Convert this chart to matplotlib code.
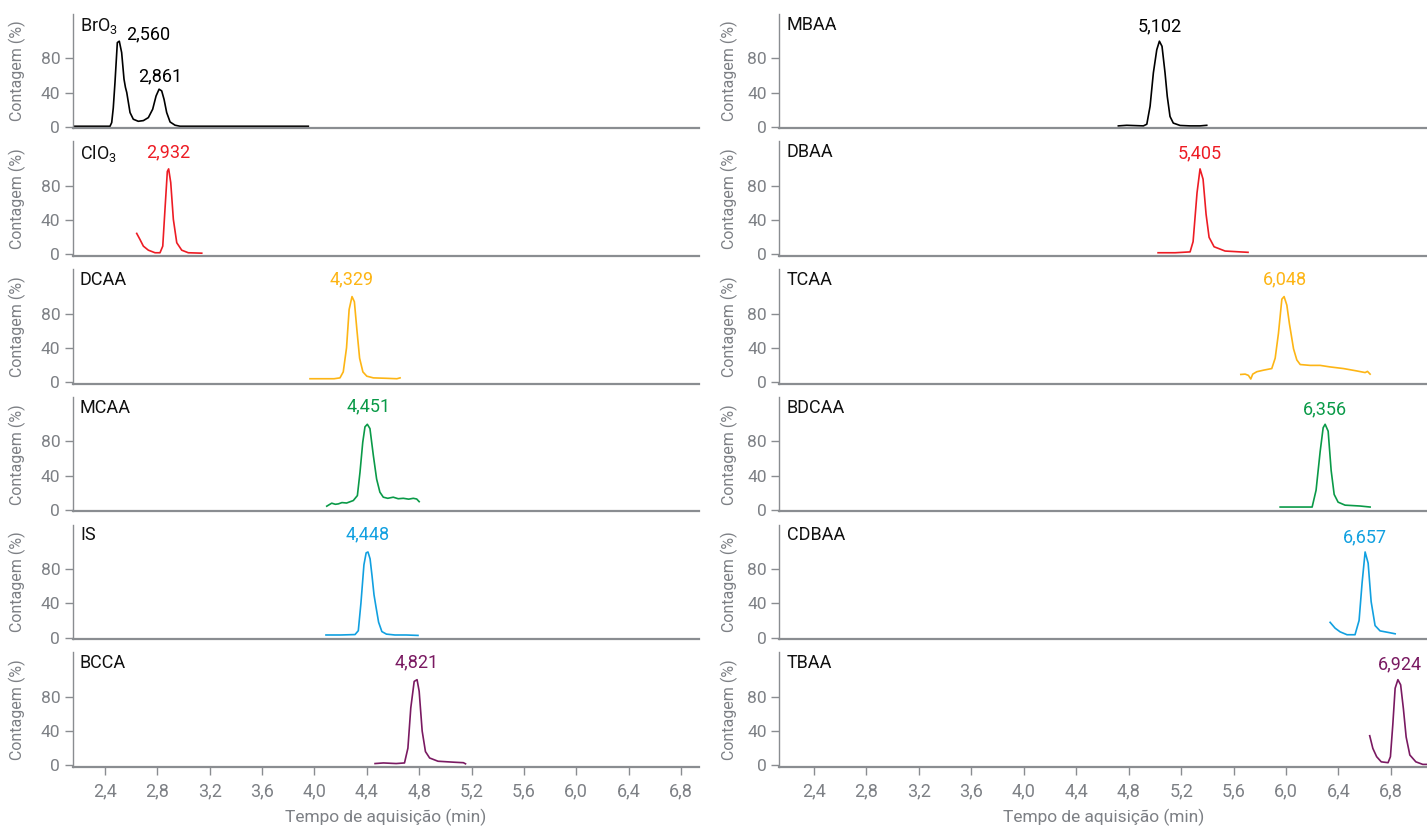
import matplotlib
matplotlib.use("Agg")
import matplotlib.pyplot as plt

plt.rcParams['font.family'] = ['Roboto', 'DejaVu Sans']
plt.rcParams['mathtext.fontset'] = 'custom'
plt.rcParams['mathtext.rm'] = 'Roboto'

# ---------------- data ----------------
names_left = [r'BrO$_\mathregular{3}$', r'ClO$_\mathregular{3}$', 'DCAA', 'MCAA', 'IS', 'BCCA']
names_right = ['MBAA', 'DBAA', 'TCAA', 'BDCAA', 'CDBAA', 'TBAA']
row_colors = ['#000000', '#ED1C24', '#FDB515', '#0A9A48', '#11A0E0', '#7A1A62']

bro3_t = [2.158, 2.438, 2.451, 2.463, 2.476, 2.494, 2.509, 2.527, 2.545, 2.556, 2.566, 2.591,
          2.616, 2.654, 2.693, 2.731, 2.764, 2.790, 2.813, 2.833, 2.851, 2.871, 2.897, 2.935,
          2.973, 3.953]
bro3_c = [0.6, 0.6, 4.9, 22, 51.7, 98.4, 100, 86.7, 55.6, 46, 40, 16.6,
          8.8, 6.4, 7.2, 10.7, 20.5, 36, 43.9, 41.9, 32, 16.6, 5.6, 1.8,
          0.6, 0.6]

clo3_t = [2.642, 2.667, 2.693, 2.731, 2.782, 2.820, 2.841, 2.858, 2.876, 2.886, 2.902,
          2.922, 2.948, 2.986, 3.036, 3.139]
clo3_c = [24.6, 17.5, 9.7, 5, 2, 2, 9.7, 52.6, 97, 100, 84,
          41, 13.7, 5, 2, 1.5]

dcaa_t = [3.966, 4.05, 4.15, 4.195, 4.22, 4.245, 4.265, 4.287, 4.305, 4.325, 4.345,
          4.37, 4.40, 4.45, 4.55, 4.63, 4.654]
dcaa_c = [4, 4, 4, 5, 12, 40, 85, 100, 94, 60, 28,
          12, 7, 5, 4.5, 4, 5]

mcaa_t = [4.094, 4.132, 4.16, 4.183, 4.21, 4.246, 4.297, 4.328, 4.348, 4.369, 4.386, 4.404,
          4.424, 4.45, 4.475, 4.5, 4.526, 4.56, 4.602, 4.64, 4.679, 4.72, 4.755, 4.781, 4.8]
mcaa_c = [4.3, 7.8, 6.5, 7, 8.5, 8, 10.9, 16.7, 44, 79, 97, 100,
          95, 63.5, 36, 20.7, 14.8, 13.5, 14.8, 13, 13.5, 12.5, 13.5, 12.7, 9.6]

is_t = [4.088, 4.2, 4.31, 4.335, 4.355, 4.378, 4.395, 4.409, 4.425, 4.44, 4.455,
        4.47, 4.49, 4.515, 4.55, 4.615, 4.70, 4.791]
is_c = [3, 3, 3.5, 8, 40, 85, 99, 100, 92, 72, 50,
        36, 18, 7, 4, 3, 3, 2.5]

bcca_t = [4.463, 4.527, 4.624, 4.688, 4.714, 4.736, 4.762, 4.784, 4.8, 4.823, 4.848,
          4.88, 4.944, 5.073, 5.138, 5.154]
bcca_c = [2, 2.7, 2, 2.7, 20, 67, 98, 100, 86.5, 40, 16,
          8.5, 4.7, 3.5, 3, 1.7]

mbaa_t = [4.721, 4.785, 4.912, 4.938, 4.963, 4.988, 5.014, 5.034, 5.054, 5.077, 5.094,
          5.115, 5.14, 5.192, 5.268, 5.344, 5.395]
mbaa_c = [1, 1.7, 1, 3, 24, 63, 90, 100, 94, 63, 35.5,
          12, 4.3, 1.5, 1, 1, 1.7]

dbaa_t = [5.024, 5.154, 5.268, 5.291, 5.321, 5.344, 5.367, 5.39, 5.413, 5.451, 5.535, 5.649, 5.71]
dbaa_c = [2, 2, 3, 15, 72, 100, 88, 47, 20, 9, 4, 3, 2.5]

tcaa_t = [5.655, 5.688, 5.713, 5.731, 5.746, 5.777, 5.828, 5.891, 5.917, 5.942, 5.968,
          5.985, 6.006, 6.026, 6.057, 6.082, 6.108, 6.184, 6.26, 6.336, 6.438, 6.54,
          6.603, 6.621, 6.641]
tcaa_c = [9, 9.4, 7.9, 3.7, 9.4, 12.2, 14, 15.9, 28, 57, 97,
          100, 90, 68, 39, 26, 20.6, 19.6, 19.6, 17.8, 15.9, 13.1,
          11.2, 12.6, 9.4]

bdcaa_t = [5.955, 6.107, 6.199, 6.229, 6.26, 6.283, 6.298, 6.321, 6.344, 6.367, 6.397,
           6.45, 6.564, 6.641]
bdcaa_c = [3.3, 3.3, 3.3, 23, 68, 96, 100, 92, 46, 18, 9,
           5.5, 4.5, 3.3]

cdbaa_t = [6.336, 6.374, 6.412, 6.465, 6.526, 6.557, 6.58, 6.603, 6.626, 6.649, 6.679,
           6.717, 6.793, 6.832]
cdbaa_c = [17.8, 11, 6.7, 3.3, 3.3, 20, 64, 100, 87, 42, 14,
           7.8, 5.6, 4.4]

tbaa_t = [6.638, 6.662, 6.691, 6.726, 6.778, 6.796, 6.814, 6.832, 6.853, 6.874, 6.895,
          6.916, 6.944, 6.99, 7.043, 7.075]
tbaa_c = [34.5, 19.7, 10, 4, 3, 10, 47, 90, 100, 94, 66,
          33, 12, 4, 1, 1]

series_left = [(bro3_t, bro3_c), (clo3_t, clo3_c), (dcaa_t, dcaa_c),
               (mcaa_t, mcaa_c), (is_t, is_c), (bcca_t, bcca_c)]
series_right = [(mbaa_t, mbaa_c), (dbaa_t, dbaa_c), (tcaa_t, tcaa_c),
                (bdcaa_t, bdcaa_c), (cdbaa_t, cdbaa_c), (tbaa_t, tbaa_c)]

# peak annotations: (text, time, count)
peaks_left = [[('2,560', 2.728, 108), ('2,861', 2.82, 59)],
              [('2,932', 2.884, 119)],
              [('4,329', 4.287, 120)],
              [('4,451', 4.412, 121)],
              [('4,448', 4.409, 121)],
              [('4,821', 4.778, 120)]]
peaks_right = [[('5,102', 5.039, 117)],
               [('5,405', 5.344, 118)],
               [('6,048', 5.993, 120)],
               [('6,356', 6.298, 118)],
               [('6,657', 6.603, 117)],
               [('6,924', 6.867, 118)]]

xticks = [2.4, 2.8, 3.2, 3.6, 4.0, 4.4, 4.8, 5.2, 5.6, 6.0, 6.4, 6.8]
xtick_labels = ['2,4', '2,8', '3,2', '3,6', '4,0', '4,4', '4,8', '5,2', '5,6', '6,0', '6,4', '6,8']
yticks = [0, 40, 80]
ylabel = 'Contagem (%)'
xlabel = 'Tempo de aquisição (min)'

# ---------------- layout ----------------
W, H = 1427, 830
fig = plt.figure(figsize=(W / 100, H / 100), dpi=100)

GRAY = '#7d8085'
SPINE = '#8a8d91'
row_pitch = 127.7
row_h = 114.5
first_bottom = 128.3

cols = [
    dict(left=72.7, right=699.0, xlim=(2.153, 6.938), names=names_left,
         series=series_left, peaks=peaks_left, ylab_x=-0.075),
    dict(left=779.3, right=1427.0, xlim=(2.135, 7.075), names=names_right,
         series=series_right, peaks=peaks_right, ylab_x=-0.063),
]

for col in cols:
    wpx = col['right'] - col['left']
    for i in range(6):
        bottom_px = first_bottom + i * row_pitch
        ax = fig.add_axes([col['left'] / W, 1 - bottom_px / H, wpx / W, row_h / H])
        t, c = col['series'][i]
        ax.plot(t, c, color=row_colors[i], lw=1.2, solid_joinstyle='round')
        ax.set_xlim(*col['xlim'])
        ax.set_ylim(-1.8, 132)
        for s in ['top', 'right']:
            ax.spines[s].set_visible(False)
        ax.spines['left'].set_color(SPINE)
        ax.spines['left'].set_linewidth(1.0)
        ax.spines['bottom'].set_color(SPINE)
        ax.spines['bottom'].set_linewidth(1.6)
        ax.set_yticks(yticks)
        ax.tick_params(axis='y', colors=SPINE, labelsize=12.5, length=6, width=1, pad=3,
                       labelcolor=GRAY)
        ax.set_xticks(xticks)
        ax.set_xticklabels(xtick_labels)
        if i < 5:
            ax.tick_params(axis='x', length=0, labelbottom=False)
        else:
            ax.tick_params(axis='x', colors=SPINE, labelcolor=GRAY, labelsize=13,
                           length=6, width=1, pad=5)
            ax.set_xlabel(xlabel, color=GRAY, fontsize=12.5, labelpad=6)
        ax.set_ylabel(ylabel, color=GRAY, fontsize=11.5)
        ax.yaxis.set_label_coords(col['ylab_x'], 0.5)
        ax.text(0.0115, 0.985, col['names'][i], transform=ax.transAxes,
                ha='left', va='top', fontsize=13, color='#111111')
        for txt, px, py in col['peaks'][i]:
            ax.text(px, py, txt, ha='center', va='center', fontsize=13,
                    color=row_colors[i])

fig.savefig('out.png', dpi=100)
